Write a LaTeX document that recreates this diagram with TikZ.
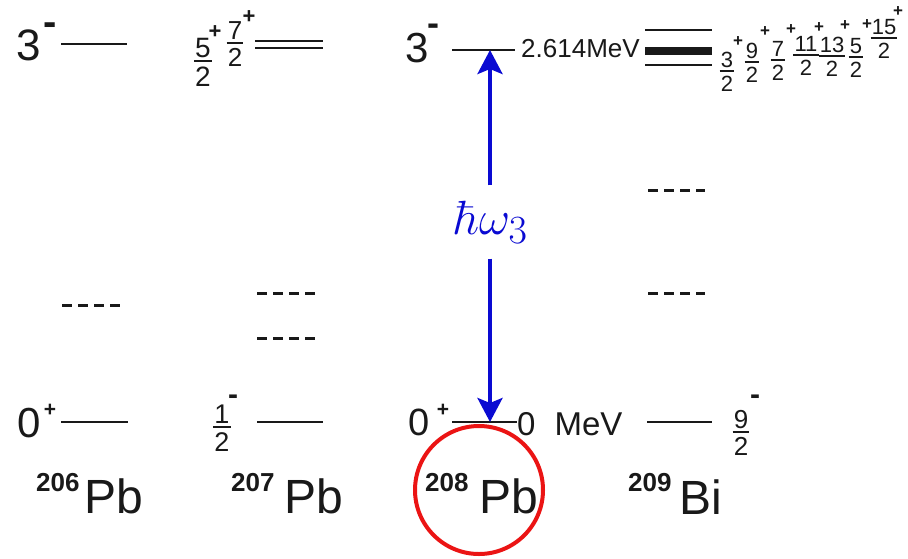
\documentclass[tikz,border=0pt]{standalone}
\usepackage[no-math]{fontspec}
\usepackage{graphicx}
\setmainfont{Liberation Sans}
\usetikzlibrary{arrows.meta}
\definecolor{arrblue}{RGB}{10,10,210}
\definecolor{circred}{RGB}{235,20,20}
\definecolor{ink}{RGB}{25,25,25}
\newcommand{\fsz}[1]{\fontsize{#1}{#1}\selectfont}
\tikzset{
  txt/.style={inner sep=0pt, text=ink},
  sgn/.style={inner sep=0pt, text=ink, font=\fsz{#1}\bfseries},
  level/.style={line width=2.5pt, draw=ink},
  dlev/.style={line width=3pt, draw=ink, dash pattern=on 10pt off 6pt},
  fracbar/.style={line width=1.8pt, draw=ink},
  blarrow/.style={line width=4pt, draw=arrblue, -{Stealth[length=24pt,width=25pt,inset=5pt]}},
}
% name, x, ybar, numerator, denominator, font size
\newcommand{\jfrac}[6]{%
  \node[txt, font=\fsz{#6}, anchor=base] (#1n) at (#2,#3-4) {#4};
  \node[txt, font=\fsz{#6}, anchor=base] (#1d) at (#2,#3+5+0.72*#6) {#5};
  \draw[fracbar] ([xshift=-1pt,yshift=-4pt]#1n.base west) -- ([xshift=1pt,yshift=-4pt]#1n.base east);
}
\begin{document}
\begin{tikzpicture}[x=1pt,y=-1pt]
\useasboundingbox (0,0) rectangle (908,558);
\fill[white] (0,0) rectangle (908,558);

% ---------- 206Pb ----------
\node[txt, font=\fsz{44}, anchor=base west] (j206t) at (16,60) {3};
\node[sgn=40] (m206t) at (50,29) {-};
\draw[level] (61,44) -- (127,44);
\draw[dlev] (62,305) -- (120,305);
\node[txt, font=\fsz{42}, anchor=base west] (j206g) at (17,437) {0};
\node[sgn=21] (p206g) at (50,410) {+};
\draw[level] (61,422) -- (128,422);
\node[txt, font=\fsz{26}\bfseries, anchor=base west] (a206) at (36,491) {206};
\node[txt, font=\fsz{48}, anchor=base west] (e206) at (84,513) {Pb};

% ---------- 207Pb ----------
\jfrac{f52}{203}{61}{5}{2}{28}
\node[sgn=22] (p52) at (215,32) {+};
\jfrac{f72}{235}{43}{7}{2}{26}
\node[sgn=22] (p72) at (249,17) {+};
\draw[level, line width=2pt] (255,41) -- (323,41);
\draw[level, line width=2pt] (255,48) -- (323,48);
\draw[dlev] (257,293) -- (315,293);
\draw[dlev] (257,338) -- (315,338);
\jfrac{f12}{222}{427}{1}{2}{27}
\node[sgn=30] (m12) at (233,400) {-};
\draw[level] (257,422) -- (323,422);
\node[txt, font=\fsz{26}\bfseries, anchor=base west] (a207) at (231,491) {207};
\node[txt, font=\fsz{48}, anchor=base west] (e207) at (284,513) {Pb};

% ---------- 208Pb ----------
\node[txt, font=\fsz{42}, anchor=base west] (j208t) at (405,62) {3};
\node[sgn=36] (m208t) at (433,30) {-};
\draw[level] (452,50) -- (515,50);
\node[txt, font=\fsz{26}, anchor=base west] (e208t) at (521,57) {2.614MeV};
\node[txt, font=\fsz{38}, anchor=base west] (j208g) at (408,435) {0};
\node[sgn=21] (p208g) at (443,410) {+};
\draw[level] (452,422) -- (517,422);
\node[txt, font=\fsz{33}, anchor=base west] (e208g) at (517,435) {0\hspace{19pt}MeV};
\node[txt, font=\fsz{26}\bfseries, anchor=base west] (a208) at (425,491) {208};
\node[txt, font=\fsz{48}, anchor=base west] (e208) at (479,513) {Pb};

\coordinate (t208) at (490,50);
\coordinate (b208) at (490,422);
\node[inner sep=0pt, minimum height=73pt, text=arrblue] (hw) at (491,222) {\scalebox{1.93}{\fsz{24.88}$\hbar\omega_3$}};
\draw[blarrow] (hw.north -| t208) -- (t208);
\draw[blarrow] (hw.south -| b208) -- (b208);

\node[circle, draw=circred, line width=4pt, minimum size=128pt, inner sep=0pt] (ring) at (479,490) {};

% ---------- 209Bi ----------
\draw[level, line width=2pt] (645,30) -- (712,30);
\draw[level, line width=8pt] (645,51) -- (712,51);
\draw[level, line width=2pt] (645,65) -- (712,65);
\jfrac{b1}{727}{71}{3}{2}{22}
\jfrac{b2}{752}{62}{9}{2}{22}
\jfrac{b3}{778}{60}{7}{2}{22}
\jfrac{b4}{806}{55}{11}{2}{22}
\jfrac{b5}{832}{56}{13}{2}{22}
\jfrac{b6}{856}{57}{5}{2}{22}
\jfrac{b7}{884}{38}{15}{2}{22}
\node[sgn=17] (q1) at (738,42) {+};
\node[sgn=17] (q2) at (765,32) {+};
\node[sgn=17] (q3) at (791,30) {+};
\node[sgn=17] (q4) at (819,28) {+};
\node[sgn=17] (q5) at (845,26) {+};
\node[sgn=17] (q6) at (867,25) {+};
\node[sgn=17] (q7) at (898,12) {+};
\draw[dlev] (648,190) -- (705,190);
\draw[dlev] (648,293) -- (705,293);
\draw[level] (647,422) -- (712,422);
\jfrac{f92}{741}{432}{9}{2}{26}
\node[sgn=30] (m92) at (755,400) {-};
\node[txt, font=\fsz{26}\bfseries, anchor=base west] (a209) at (628,491) {209};
\node[txt, font=\fsz{48}, anchor=base west] (e209) at (679,514) {Bi};
\end{tikzpicture}
\end{document}
